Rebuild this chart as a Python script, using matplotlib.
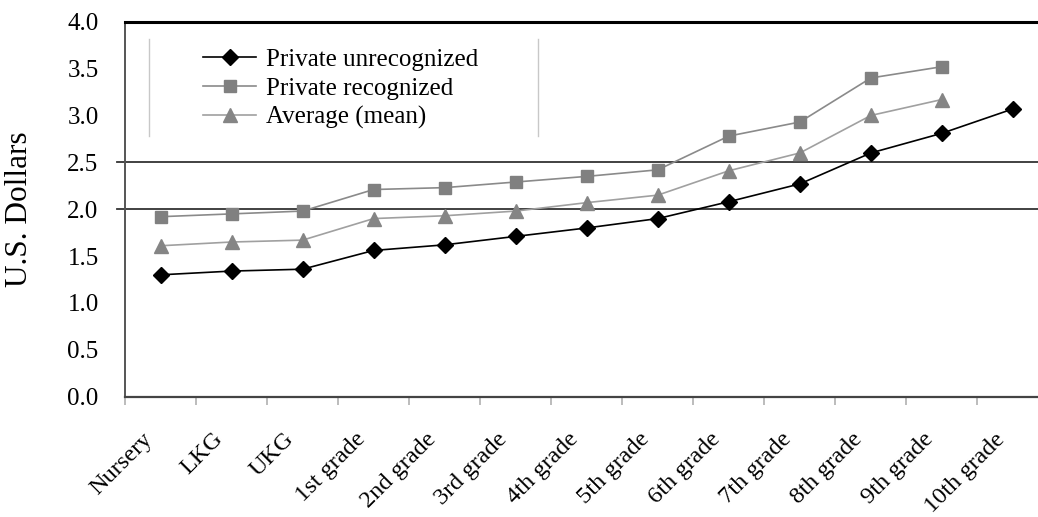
import matplotlib
matplotlib.use("Agg")
import matplotlib.pyplot as plt
import matplotlib.transforms as mtransforms
from matplotlib.lines import Line2D

grades = ["Nursery", "LKG", "UKG", "1st grade", "2nd grade", "3rd grade",
          "4th grade", "5th grade", "6th grade", "7th grade", "8th grade",
          "9th grade", "10th grade"]
private_unrecognized = [1.30, 1.34, 1.36, 1.56, 1.62, 1.71, 1.80, 1.90,
                        2.08, 2.27, 2.60, 2.81, 3.07]
private_recognized = [1.92, 1.95, 1.98, 2.21, 2.23, 2.29, 2.35, 2.42,
                      2.78, 2.93, 3.40, 3.52]
average_mean = [1.61, 1.65, 1.67, 1.90, 1.93, 1.98, 2.07, 2.15,
                2.41, 2.60, 3.00, 3.17]
y_ticks = [0.0, 0.5, 1.0, 1.5, 2.0, 2.5, 3.0, 3.5, 4.0]
grid_levels = [2.0, 2.5]

plt.rcParams["font.family"] = ["Liberation Serif", "DejaVu Serif"]

fig = plt.figure(figsize=(10.38, 5.17), dpi=100)
W, H = 1038, 517
left, right, top, bottom = 125, 1048.5, 21.7, 396.7
ax = fig.add_axes([left / W, 1 - bottom / H, (right - left) / W, (bottom - top) / H])

x_all = list(range(len(grades)))
ax.plot(x_all[:len(private_unrecognized)], private_unrecognized, color="black",
        lw=1.2, marker="D", ms=8, mfc="black", mec="black",
        label="Private unrecognized", zorder=5)
ax.plot(x_all[:len(private_recognized)], private_recognized, color="#8a8a8a",
        lw=1.2, marker="s", ms=9, mfc="#808080", mec="#808080",
        label="Private recognized", zorder=4)
ax.plot(x_all[:len(average_mean)], average_mean, color="#a0a0a0",
        lw=1.2, marker="^", ms=10, mfc="#858585", mec="#858585",
        label="Average (mean)", zorder=4)

for lvl in grid_levels:
    ax.axhline(lvl, xmin=-0.009, xmax=1, color="#333333", lw=1.3,
               clip_on=False, zorder=1)

ax.set_xlim(-0.5, len(grades) - 0.5)
ax.set_ylim(0, 4.0)
ax.set_yticks(y_ticks)
ax.set_yticklabels([f"{v:.1f}" for v in y_ticks], fontsize=18)
ax.tick_params(axis="y", length=0, pad=19)

ax.set_xticks(x_all)
ax.set_xticks([i - 0.5 for i in range(len(grades) + 1)], minor=True)
ax.tick_params(axis="x", which="major", length=0, pad=23)
ax.tick_params(axis="x", which="minor", length=6, color="#b0b0b0", width=1.2)
offset = mtransforms.ScaledTranslation(-19 / 100, 0, fig.dpi_scale_trans)
ax.set_xticklabels(grades, fontsize=17.5, rotation=45, ha="right", va="top",
                   rotation_mode="anchor")
for lab in ax.get_xticklabels():
    lab.set_transform(lab.get_transform() + offset)

ax.spines["top"].set_color("black")
ax.spines["top"].set_linewidth(2.2)
ax.spines["left"].set_color("#555555")
ax.spines["left"].set_linewidth(1.4)
ax.spines["bottom"].set_color("#444444")
ax.spines["bottom"].set_linewidth(1.6)
ax.spines["right"].set_visible(False)

ax.set_ylabel("U.S. Dollars", fontsize=22.5)
ax.yaxis.set_label_coords(-0.099, 0.5)

leg = ax.legend(loc="upper left", bbox_to_anchor=(0.085, 0.928), frameon=False,
                fontsize=18, handlelength=2.1, handletextpad=0.4,
                labelspacing=0.24, borderpad=0, borderaxespad=0)

for xf in [(149 - left) / (right - left), (538 - left) / (right - left)]:
    ax.add_line(Line2D([xf, xf], [(bottom - 39) / (bottom - top), (bottom - 136) / (bottom - top)],
                       transform=ax.transAxes, color="#c8c8c8", lw=1.0, zorder=1))

fig.savefig("out.png", dpi=100)
